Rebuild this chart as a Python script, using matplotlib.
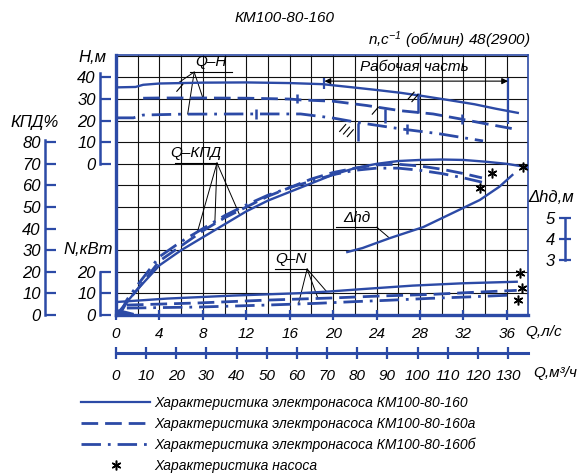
import numpy as np
import matplotlib
matplotlib.use('Agg')
import matplotlib.pyplot as plt
from matplotlib.lines import Line2D

plt.rcParams['font.family'] = ['Liberation Sans Narrow', 'Liberation Sans', 'DejaVu Sans']
plt.rcParams['font.style'] = 'italic'
plt.rcParams['lines.scale_dashes'] = False
plt.rcParams['mathtext.fontset'] = 'custom'
plt.rcParams['mathtext.rm'] = 'Liberation Sans'
plt.rcParams['mathtext.it'] = 'Liberation Sans:italic'
plt.rcParams['mathtext.default'] = 'it'

BLUE = '#2c4aa6'
DASH = (0, (12, 5))
DASHDOT = (0, (14, 5, 2, 5))

# --- data (Q in l/s) ---
# Q-H, three impellers
q_h_a = [0, 1.8, 2.5, 4, 8, 12, 16, 19, 22, 24, 26.2, 28, 30.8, 33, 35, 37]
h_a = [35.4, 35.6, 36.6, 37.2, 37.6, 37.7, 37.4, 36.9, 35.3, 34.2, 32.9, 31.6, 29.4, 27.6, 25.5, 23.6]
q_h_b = [2.5, 4, 8, 12, 16, 17, 20, 23.1, 26.2, 29.2, 31.7, 34, 36.6]
h_b = [30.4, 30.5, 30.5, 30.4, 30.0, 29.6, 29.0, 27.0, 24.6, 23.1, 20.8, 18.6, 16.2]
q_h_c = [0, 1.6, 2.5, 6, 12, 17, 20, 22.2, 26.2, 29.8, 33.8]
h_c = [21.3, 21.3, 22.6, 23.0, 23.1, 23.1, 21.2, 19.2, 16.2, 13.9, 10.6]

# Q-KPD
q_k_a = [0, 0.5, 1, 2, 4, 6, 8, 10, 12, 14, 16, 18, 20, 22, 24, 26, 28, 30, 32, 34, 36, 37.8]
kpd_a = [0, 3, 6, 12, 23, 30, 36, 42, 48, 53, 57, 61, 65, 68, 70, 71.3, 71.8, 72, 71.8, 71, 70, 68.5]
q_k_b = [0.3, 1, 2, 4, 6, 8, 10, 12, 14, 16, 18, 20, 22, 24, 26, 28, 30, 32, 33.7]
kpd_b = [0, 6, 12, 25, 32, 39, 45, 50, 55, 59, 63, 66, 68, 69.5, 69.8, 69, 67.5, 65.5, 63.5]
q_k_c = [0.3, 1, 2, 4, 6, 8, 10, 12, 14, 16, 18, 20, 22, 24, 26, 28, 30, 32, 33.7]
kpd_c = [0, 7, 14, 27, 34, 40, 46, 51, 55.5, 59, 62, 65, 67, 68, 68, 67, 65.5, 63.5, 61.5]

# Q-N, kW
q_n_a = [0, 4.7, 10.8, 16.9, 19.7, 22.7, 27.3, 32, 36.9]
n_a = [6.0, 7.6, 9.0, 10.1, 10.9, 12.0, 13.6, 14.7, 15.4]
q_n_b = [1, 7.7, 13.9, 20, 24.3, 28.9, 32.9, 36.9]
n_b = [4.6, 5.6, 6.9, 7.9, 8.8, 9.5, 10.5, 11.4]
q_n_c = [1, 7.7, 13.9, 18.5, 22, 25, 28.9, 32.6, 36.3]
n_c = [3.2, 3.7, 4.6, 5.4, 6.2, 6.8, 7.7, 8.4, 9.2]
# dense blob where the curves meet at the origin
blob_q = [0, 0.8, 1.6]
blob_top = [3.0, 2.2, 1.2]

# Q-dhd, m
q_d = [21.3, 22.7, 25.2, 28.3, 31.0, 33.5, 35.3, 36.5]
dhd = [3.38, 3.57, 4.04, 4.57, 5.24, 5.86, 6.49, 7.05]

# pump-only points (*)
star_q_kpd = [37.5, 34.6, 33.5]
star_kpd = [68.5, 65.7, 58.8]
star_q_n = [37.2, 37.4, 37.0]
star_n = [19.4, 12.5, 6.9]

# working range marks on the Q-H curves
work_q = [19.2, 36.1]
mark_q = [16.7, 12.9, 24.8, 27.8, 22.3, 26.8, 31.9]
mark_h_lo = [28.2, 20.8, 19.0, 23.6, 10.6, 13.9, 18.5]
mark_h_hi = [32.4, 25.5, 25.5, 32.9, 19.0, 18.5, 23.1]
# hatch strokes next to the marks (Q, H of stroke start, count)
hatch_q = [26.9, 23.6, 20.6, 5.6]
hatch_h = [30.0, 23.0, 15.0, 33.6]
hatch_n = [2, 1, 3, 1]

q_ticks = list(range(0, 37, 4))
m3h_ticks = list(range(0, 131, 10))
h_ticks = [0, 10, 20, 30, 40]
kpd_ticks = [0, 10, 20, 30, 40, 50, 60, 70, 80]
n_ticks = [0, 10, 20]
dhd_ticks = [3, 4, 5]

legend_labels = ['Характеристика электронасоса КМ100-80-160',
                 'Характеристика электронасоса КМ100-80-160а',
                 'Характеристика электронасоса КМ100-80-160б',
                 'Характеристика насоса']

# --- layout in pixels of the 581x475 picture ---
W, H = 581, 475
X0, X1, Y0, Y1 = 116, 528, 55, 315
QMAX = 37.94
YMAX = 120.4          # common grid scale: 10 units per grid row
H_OFF = 70            # H = 0 sits on the KPD 70 row
D3, DSTEP = 25.46, 9.72
TICK_FS = 11


def box(x0, y0, x1, y1):
    return [x0 / W, 1 - y1 / H, (x1 - x0) / W, (y1 - y0) / H]


def frac(px):
    return (px - X0) / (X1 - X0)


fig = plt.figure(figsize=(5.81, 4.75), dpi=100)
ax = fig.add_axes(box(X0, Y0, X1, Y1))
ax.set_xlim(0, QMAX)
ax.set_ylim(0, YMAX)
ax.set_xticks(q_ticks)
ax.set_xticks(np.arange(0, QMAX, 2), minor=True)
ax.set_yticks(np.arange(0, YMAX, 10))
ax.grid(which='both', color='#111111', lw=0.8)
ax.tick_params(axis='y', left=False, labelleft=False)
ax.tick_params(axis='x', which='major', direction='inout', length=7, width=1.6,
               color=BLUE, labelsize=TICK_FS, pad=5)
ax.tick_params(axis='x', which='minor', length=0)
for side in ['left', 'bottom']:
    ax.spines[side].set_color(BLUE)
    ax.spines[side].set_linewidth(2.4)
for side in ['top', 'right']:
    ax.spines[side].set_color(BLUE)
    ax.spines[side].set_linewidth(1.2)
ax.set_axisbelow(True)


def side_axis(pos_px, ylim, bounds, ticks, direction='in'):
    a = fig.add_axes(box(X0, Y0, X1, Y1), sharex=ax)
    a.patch.set_visible(False)
    a.set_ylim(*ylim)
    for s in ['top', 'right', 'bottom']:
        a.spines[s].set_visible(False)
    a.spines['left'].set_position(('axes', frac(pos_px)))
    a.spines['left'].set_bounds(*bounds)
    a.spines['left'].set_color(BLUE)
    a.spines['left'].set_linewidth(1.8)
    a.set_yticks(ticks)
    a.tick_params(axis='y', direction=direction, length=8, width=1.6,
                  color=BLUE, labelsize=TICK_FS + 1, pad=3)
    a.xaxis.set_visible(False)
    return a


axK = side_axis(45, (0, YMAX), (0, 81), kpd_ticks)
axN = side_axis(100, (0, YMAX), (0, 20), n_ticks)
axH = side_axis(100, (-H_OFF, YMAX - H_OFF), (0, 42), h_ticks)
axD = side_axis(565, (3 - D3 / DSTEP, 3 + (YMAX - D3) / DSTEP), (3, 5), dhd_ticks,
                direction='inout')

lw = 1.7
# Q-H
axH.plot(q_h_a, h_a, color=BLUE, lw=lw)
axH.plot(q_h_b, h_b, color=BLUE, lw=lw + 0.3, ls=DASH)
axH.plot(q_h_c, h_c, color=BLUE, lw=lw + 0.3, ls=DASHDOT)
axH.vlines(mark_q, mark_h_lo, mark_h_hi, color=BLUE, lw=1.8)
for q, h, n in zip(hatch_q, hatch_h, hatch_n):
    for i in range(n):
        axH.plot([q + 0.35 * i, q + 0.35 * i + 0.55], [h - 1.2 * i, h - 1.2 * i + 3.2],
                 color='k', lw=0.8)
# Q-KPD
axK.plot(q_k_a, kpd_a, color=BLUE, lw=lw)
axK.plot(q_k_b, kpd_b, color=BLUE, lw=lw + 0.3, ls=DASH)
axK.plot(q_k_c, kpd_c, color=BLUE, lw=lw + 0.3, ls=DASHDOT)
axK.plot(star_q_kpd, star_kpd, ls='none', marker=(6, 2, 0), ms=7, mew=1.1, color='k')
# Q-N
axN.fill_between(blob_q, 0, blob_top, color=BLUE, lw=0)
axN.plot(q_n_a, n_a, color=BLUE, lw=lw)
axN.plot(q_n_b, n_b, color=BLUE, lw=lw + 0.3, ls=DASH)
axN.plot(q_n_c, n_c, color=BLUE, lw=lw + 0.3, ls=DASHDOT)
axN.plot(star_q_n, star_n, ls='none', marker=(6, 2, 0), ms=7, mew=1.1, color='k')
# Q-dhd
axD.plot(q_d, dhd, color=BLUE, lw=lw)

# working range dimension line
y_dim = 108.3
ax.annotate('', xy=(work_q[0], y_dim), xytext=(work_q[1], y_dim),
            arrowprops=dict(arrowstyle='<|-|>', color='k', lw=0.8,
                            mutation_scale=9, shrinkA=0, shrinkB=0))
ax.vlines(work_q[0], np.interp(work_q[0], q_h_a, h_a) + H_OFF - 2, y_dim + 1.5,
          color=BLUE, lw=1.6)
ax.vlines(work_q[1], np.interp(work_q[1], q_h_b, h_b) + H_OFF + 2, y_dim + 1.5,
          color=BLUE, lw=1.6)
ax.text(27.5, 114.8, 'Рабочая часть', ha='center', va='center', fontsize=11)

leader = dict(arrowstyle='-', color='k', lw=0.7, shrinkA=0, shrinkB=0)


def label(text, x0, x1, y_line, x_from, targets):
    ax.plot([x0, x1], [y_line, y_line], color='k', lw=0.8)
    ax.text((x0 + x1) / 2, y_line + 1.2, text, ha='center', va='bottom', fontsize=11)
    for tx, ty in targets:
        ax.annotate('', xy=(tx, ty), xytext=(x_from, y_line), arrowprops=leader)


label('Q–H', 6.8, 10.7, 112.5, 7.2,
      [(5.7, np.interp(5.7, q_h_a, h_a) + H_OFF),
       (8.0, np.interp(8.0, q_h_b, h_b) + H_OFF),
       (6.6, np.interp(6.6, q_h_c, h_c) + H_OFF)])
label('Q–КПД', 5.4, 9.3, 70.4, 9.3,
      [(7.5, np.interp(7.5, q_k_c, kpd_c)),
       (9.1, np.interp(9.1, q_k_b, kpd_b)),
       (11.4, np.interp(11.4, q_k_a, kpd_a))])
label('Q–N', 14.6, 17.6, 21.3, 17.6,
      [(16.8, np.interp(16.8, q_n_c, n_c)),
       (18.6, np.interp(18.6, q_n_b, n_b)),
       (19.4, np.interp(19.4, q_n_a, n_a))])
label('Δhд', 20.3, 24.0, 40.7, 24.0,
      [(25.2, D3 + (np.interp(25.2, q_d, dhd) - 3) * DSTEP)])

# Q in m3/h scale below
axM = fig.add_axes(box(X0, 352, X1, 353))
axM.patch.set_visible(False)
axM.set_xlim(0, QMAX * 3.6)
axM.set_xticks(m3h_ticks)
axM.set_yticks([])
for s in ['top', 'left', 'right']:
    axM.spines[s].set_visible(False)
axM.spines['bottom'].set_color(BLUE)
axM.spines['bottom'].set_linewidth(2.2)
axM.tick_params(axis='x', direction='inout', length=9, width=1.6, color=BLUE,
                labelsize=TICK_FS, pad=7)


def ftext(px, py, s, **kw):
    fig.text(px / W, 1 - py / H, s, **kw)


ftext(285, 18, 'КМ100-80-160', ha='center', va='center', fontsize=11)
ftext(449, 40, 'n,c$^{-1}$ (об/мин) 48(2900)', ha='center', va='center', fontsize=11)
ftext(92, 58, 'Н,м', ha='center', va='center', fontsize=12)
ftext(35, 122, 'КПД%', ha='center', va='center', fontsize=12)
ftext(88, 250, 'N,кВт', ha='center', va='center', fontsize=12)
ftext(551, 197, 'Δhд,м', ha='center', va='center', fontsize=12)
ftext(525, 332, 'Q,л/с', ha='left', va='center', fontsize=11)
ftext(533, 373, 'Q,м³/ч', ha='left', va='center', fontsize=11)

handles = [Line2D([], [], color=BLUE, lw=1.6),
           Line2D([], [], color=BLUE, lw=2, ls=DASH),
           Line2D([], [], color=BLUE, lw=2, ls=DASHDOT),
           Line2D([], [], ls='none', marker=(6, 2, 0), ms=7, mew=1.1, color='k')]
fig.legend(handles, legend_labels, loc='upper left', bbox_to_anchor=(81 / W, 1 - 396 / H),
           frameon=False, fontsize=10, handlelength=5.0, handletextpad=0.25,
           labelspacing=0.5, borderaxespad=0, borderpad=0)

fig.savefig('out.png', dpi=100)
